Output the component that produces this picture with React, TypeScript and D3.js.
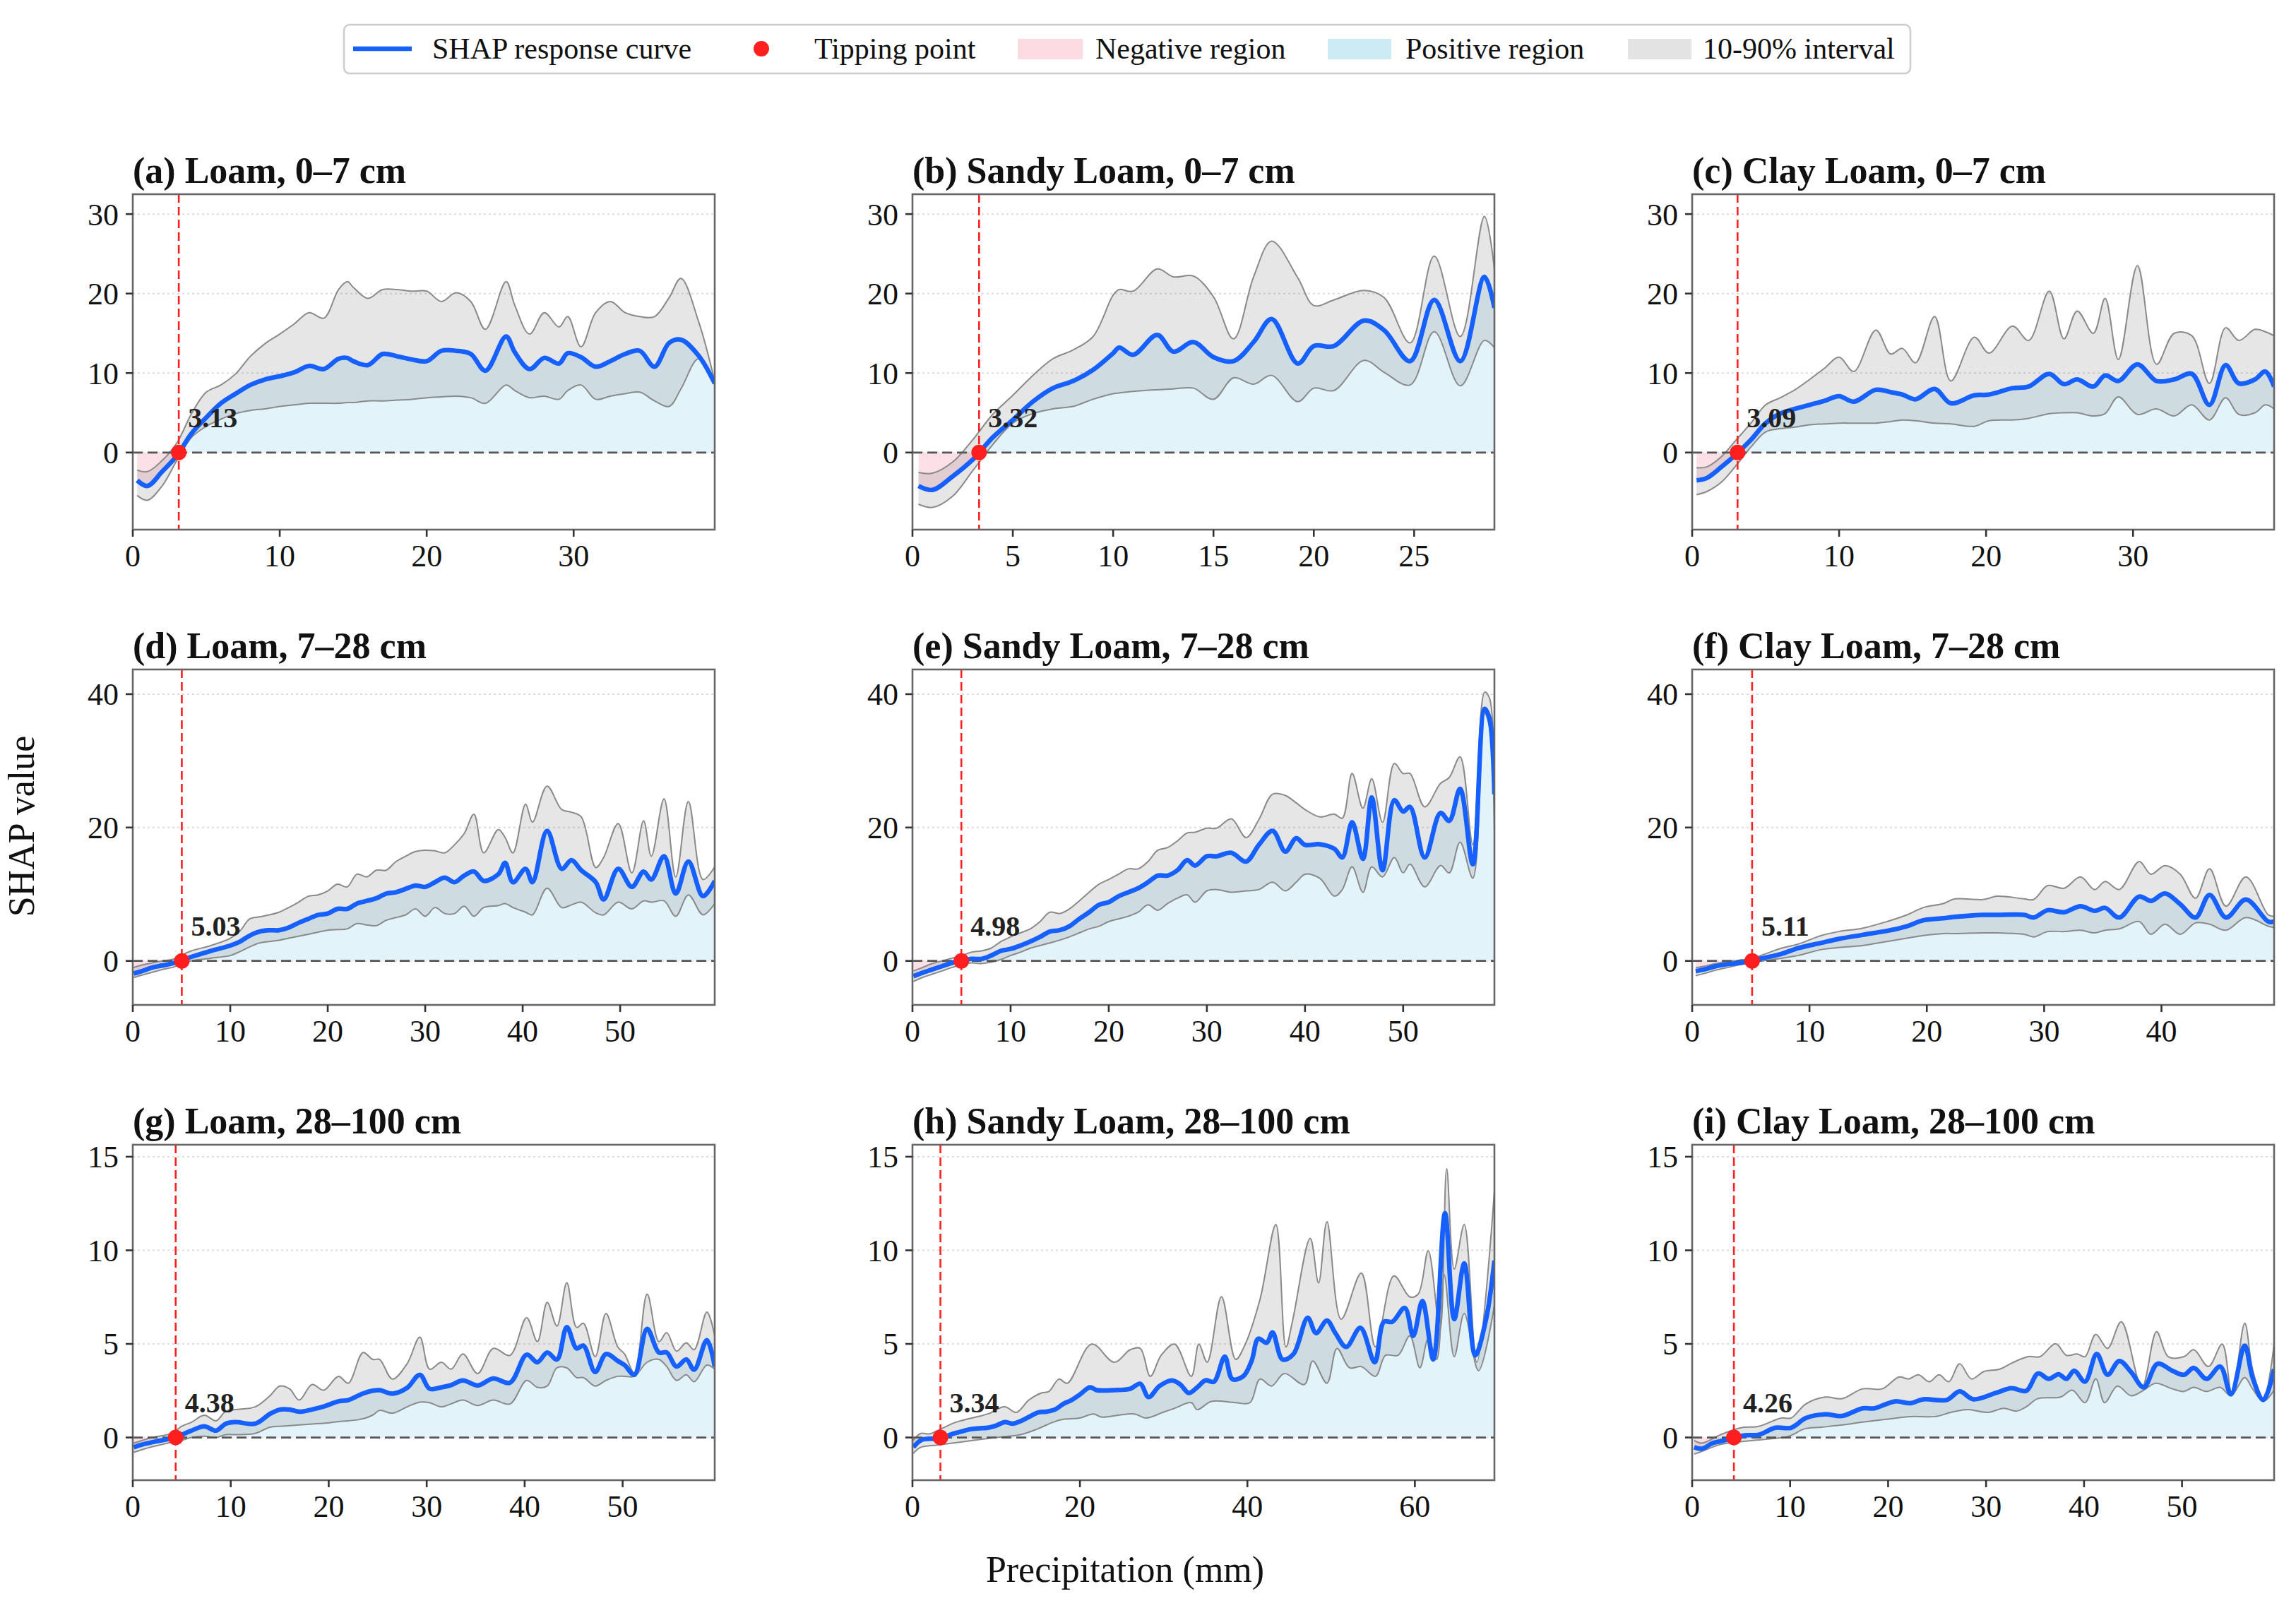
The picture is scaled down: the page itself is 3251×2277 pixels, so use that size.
import React from 'react';
import * as d3 from 'd3';

const W = 3251;
const H = 2277;
const PW = 824;
const PH = 475;
const colLeft = [188, 1292, 2396];
const rowTop = [275, 948, 1621];
const FONT = "'Liberation Serif', 'Times New Roman', serif";

const titles = [
  '(a) Loam, 0–7 cm', '(b) Sandy Loam, 0–7 cm', '(c) Clay Loam, 0–7 cm',
  '(d) Loam, 7–28 cm', '(e) Sandy Loam, 7–28 cm', '(f) Clay Loam, 7–28 cm',
  '(g) Loam, 28–100 cm', '(h) Sandy Loam, 28–100 cm', '(i) Clay Loam, 28–100 cm',
];
const tipping = [3.13, 3.32, 3.09, 5.03, 4.98, 5.11, 4.38, 3.34, 4.26];
const xMax = [39.6, 29.0, 39.6, 59.7, 59.3, 49.6, 59.4, 69.5, 59.4];
const xTicks = [
  [0, 10, 20, 30], [0, 5, 10, 15, 20, 25], [0, 10, 20, 30],
  [0, 10, 20, 30, 40, 50], [0, 10, 20, 30, 40, 50], [0, 10, 20, 30, 40],
  [0, 10, 20, 30, 40, 50], [0, 20, 40, 60], [0, 10, 20, 30, 40, 50],
];
const rowYDomain = [[-9.7, 32.5], [-6.6, 43.7], [-2.28, 15.64]];
const rowYTicks = [[0, 10, 20, 30], [0, 20, 40], [0, 5, 10, 15]];

// (a) Loam 0-7
const aX = [0.3, 1, 2, 3, 4, 5, 6, 7, 8, 9, 10, 11, 12, 13, 14, 14.6, 15, 16, 17, 18, 19, 20, 21, 22, 23, 24, 25.4, 26, 27, 28, 29, 29.6, 30.5, 31.5, 32.5, 33.5, 34.5, 35.5, 36.5, 37.3, 38.5, 39.6];
const aMid = [-3.5, -4.2, -2.4, -0.4, 2.4, 4.4, 6.2, 7.4, 8.5, 9.2, 9.6, 10.1, 10.9, 10.5, 11.8, 11.9, 11.5, 11.0, 12.4, 12.1, 11.7, 11.5, 12.8, 12.8, 12.4, 10.3, 14.6, 12.6, 10.5, 11.9, 11.2, 12.5, 12.0, 10.8, 11.5, 12.4, 12.8, 10.8, 13.8, 14.2, 12.2, 8.7];
const aLo = [-5.4, -6.0, -4.2, -1.0, 1.9, 3.3, 4.2, 4.9, 5.3, 5.5, 5.8, 6.0, 6.2, 6.2, 6.2, 6.3, 6.3, 6.5, 6.5, 6.6, 6.7, 6.9, 7.0, 7.1, 6.9, 6.2, 8.5, 7.8, 6.9, 7.1, 6.7, 7.8, 8.5, 6.7, 7.1, 7.4, 7.6, 6.5, 5.8, 8.0, 11.8, 8.5];
const aHi = [-2.2, -2.4, -1.0, 1.2, 4.9, 7.6, 8.5, 9.9, 12.1, 13.7, 14.9, 16.2, 17.6, 16.9, 20.5, 21.5, 20.8, 19.4, 20.5, 20.5, 20.3, 20.3, 19.0, 20.1, 19.0, 15.5, 21.5, 18.5, 14.9, 17.6, 15.8, 17.1, 13.3, 17.6, 19.0, 17.6, 17.1, 17.1, 19.5, 21.9, 16.5, 9.0];

// (b) Sandy Loam 0-7
const bX = [0.3, 1, 2, 3, 4, 5, 6, 7, 8, 9, 10, 10.3, 11, 12.2, 13, 14, 15, 16, 17, 17.9, 19.2, 20, 21, 22.5, 23.5, 24.8, 26, 27.3, 28.5, 29];
const bMid = [-4.2, -4.7, -3.0, -0.9, 1.9, 4.1, 6.4, 8.1, 9.0, 10.4, 12.5, 13.2, 12.3, 14.8, 12.7, 13.9, 12.0, 11.5, 13.9, 16.8, 11.2, 13.4, 13.4, 16.6, 15.4, 11.5, 19.2, 11.5, 22.1, 18.2];
const bHi = [-2.5, -2.6, -1.2, 1.6, 4.8, 7.2, 9.7, 11.8, 12.9, 14.6, 19.8, 20.5, 20.3, 23.1, 22.1, 22.2, 19.6, 14.3, 22.1, 26.6, 22.0, 18.5, 19.2, 20.4, 19.5, 13.8, 24.7, 14.6, 29.7, 23.1];
const bLo = [-6.5, -6.9, -5.5, -2.3, 1.0, 3.7, 4.9, 5.5, 5.8, 6.7, 7.4, 7.5, 7.7, 7.9, 8.0, 8.1, 6.7, 9.4, 8.6, 9.7, 6.4, 8.1, 7.8, 11.6, 10.1, 8.5, 15.2, 8.4, 14.1, 13.2];

// (c) Clay Loam 0-7
const cX = [0.3, 1, 2, 3, 4, 5, 6, 7, 8, 9, 10, 11, 12.5, 13.5, 14.3, 15.2, 16.5, 17.6, 19.2, 20.2, 21.8, 22.9, 24.3, 25.3, 26.2, 27.3, 28.1, 29.0, 30.3, 31.6, 32.8, 34, 35.2, 36.3, 37.2, 38.3, 39.0, 39.6];
const cMid = [-3.5, -3.2, -1.8, -0.2, 1.6, 3.7, 4.9, 5.5, 6.0, 6.5, 7.1, 6.4, 7.9, 7.6, 7.3, 6.7, 8.0, 6.2, 7.2, 7.3, 8.1, 8.3, 9.9, 8.6, 9.2, 8.3, 9.7, 9.0, 11.1, 9.0, 9.2, 9.9, 6.0, 11.0, 8.7, 9.2, 10.2, 8.3];
const cHi = [-1.9, -1.8, -0.5, 1.6, 3.7, 6.0, 6.9, 7.9, 9.2, 10.6, 12.0, 10.2, 15.4, 12.4, 13.1, 11.3, 17.1, 9.0, 14.5, 12.5, 15.9, 14.1, 20.3, 14.3, 17.8, 15.0, 19.4, 11.7, 23.5, 11.1, 15.0, 14.7, 8.7, 15.7, 14.1, 15.5, 15.2, 14.7];
const cLo = [-5.3, -4.9, -3.7, -1.6, 0.7, 2.6, 3.0, 3.2, 3.5, 3.6, 3.7, 3.7, 3.7, 3.9, 4.1, 4.0, 3.7, 3.6, 3.3, 4.0, 4.1, 4.3, 4.9, 5.0, 5.0, 4.6, 4.9, 7.0, 4.8, 5.5, 4.6, 6.0, 4.1, 6.9, 4.8, 5.0, 6.0, 5.5];

// (d) Loam 7-28
const dX = [0.1, 1, 2, 3, 4, 6, 8, 10, 11, 12, 13, 14, 15, 16, 17, 18, 19, 20, 21, 22, 23, 24, 25, 26, 27, 28, 29, 30, 31, 32, 33, 34, 35, 36, 37.5, 38.2, 39, 40.3, 41, 42.5, 44, 45, 46, 47.5, 48.3, 49.8, 51.2, 52.4, 53.2, 54.5, 55.7, 57, 58.5, 59.7];
const dMid = [-1.9, -1.5, -1.0, -0.7, -0.4, 0.6, 1.5, 2.3, 2.9, 3.8, 4.4, 4.6, 4.6, 5.0, 5.7, 6.3, 6.9, 7.1, 7.8, 7.8, 8.6, 9.0, 9.4, 10.1, 10.3, 10.8, 11.3, 11.1, 11.8, 12.5, 11.8, 12.8, 13.4, 12.0, 13.0, 14.7, 11.8, 13.8, 11.8, 19.5, 13.8, 15.1, 13.6, 11.8, 9.2, 13.8, 11.1, 13.4, 12.2, 15.7, 10.1, 14.9, 9.7, 12.0];
const dHi = [-1.0, -0.6, -0.3, 0, 0.2, 1.5, 2.3, 3.4, 4.5, 6.3, 6.6, 6.9, 7.3, 8.0, 8.8, 9.7, 9.9, 10.5, 11.5, 11.1, 13.0, 12.6, 13.6, 13.6, 14.9, 15.7, 16.4, 16.6, 16.5, 16.2, 17.4, 19.1, 22.0, 16.2, 19.7, 18.5, 16.2, 23.5, 20.8, 26.2, 22.7, 22.3, 21.6, 14.0, 15.5, 20.6, 13.2, 21.0, 15.7, 24.3, 12.6, 23.9, 12.2, 14.1];
const dLo = [-2.5, -2.1, -1.7, -1.3, -1.0, 0, 0.4, 0.8, 1.4, 2.1, 2.7, 2.9, 3.1, 3.4, 3.7, 4.0, 4.3, 4.6, 4.7, 4.8, 5.6, 5.4, 5.3, 6.1, 6.5, 6.9, 7.8, 6.7, 8.0, 7.1, 7.1, 8.2, 6.7, 8.0, 8.3, 8.6, 8.0, 7.3, 6.9, 10.9, 8.0, 8.4, 8.8, 7.2, 6.9, 8.8, 7.8, 9.0, 8.8, 9.0, 6.7, 9.9, 6.9, 8.6];

// (e) Sandy Loam 7-28
const eX = [0.1, 1, 2, 3, 4, 5, 6, 7, 8, 9, 10, 11, 12, 13, 14, 15, 16, 17, 18, 19, 20, 21, 22, 23, 24, 25, 26, 27, 28, 28.8, 30, 31, 32.5, 34, 35.3, 36.7, 38, 39.1, 40, 41.5, 43, 43.8, 44.8, 45.9, 46.8, 47.9, 49.1, 50, 50.7, 52.2, 53.8, 54.7, 55.8, 57.1, 58.3, 58.8, 59.3];
const eMid = [-2.3, -1.8, -1.3, -0.8, -0.3, 0, 0.3, 0.3, 0.8, 1.5, 1.8, 2.3, 2.9, 3.6, 4.4, 4.6, 5.2, 6.3, 7.3, 8.4, 8.8, 9.7, 10.3, 10.9, 11.8, 12.8, 12.8, 13.6, 15.1, 14.3, 15.7, 15.7, 16.2, 14.9, 17.4, 19.5, 16.4, 18.4, 17.4, 17.5, 16.8, 15.5, 20.8, 15.3, 24.5, 13.6, 24.1, 22.4, 23.1, 15.5, 22.2, 21.0, 25.8, 14.5, 37.8, 36.3, 25.0];
const eHi = [-1.5, -1.0, -0.4, 0, 0.4, 0.8, 1.3, 1.5, 1.9, 2.9, 3.6, 4.2, 4.8, 5.9, 7.3, 7.1, 7.8, 9.0, 10.3, 11.5, 12.2, 13.0, 13.8, 13.8, 14.9, 16.6, 17.0, 18.0, 19.2, 19.3, 19.9, 19.9, 21.3, 18.5, 21.2, 25.0, 24.8, 23.7, 22.7, 21.6, 22.0, 21.4, 28.1, 22.9, 27.3, 20.8, 29.6, 28.1, 28.1, 23.1, 26.6, 27.5, 30.6, 17.4, 40.3, 39.4, 25.8];
const eLo = [-3.1, -2.5, -2.0, -1.5, -1.0, -0.6, -0.3, -0.4, -0.2, 0.2, 0.8, 1.3, 1.9, 2.3, 2.7, 3.1, 3.6, 4.2, 4.8, 5.2, 5.9, 6.3, 6.7, 7.3, 8.4, 7.6, 8.6, 9.4, 9.9, 8.8, 10.5, 10.7, 10.3, 10.5, 10.7, 11.8, 10.5, 11.8, 13.0, 12.4, 9.7, 10.7, 14.1, 10.3, 14.1, 12.6, 15.5, 13.2, 14.5, 11.1, 14.3, 13.2, 17.8, 12.4, 37.1, 35.0, 19.9];

// (f) Clay Loam 7-28
const fX = [0.3, 1, 2, 3, 4, 5.2, 6, 7.6, 9, 11, 12.5, 14.5, 16.6, 18.3, 19.7, 21.4, 22.4, 24.8, 26, 28.3, 29.1, 30.3, 31.7, 33.1, 34.3, 35.2, 36.4, 38.1, 39.1, 40.3, 41.6, 42.9, 44.1, 45.5, 47.2, 49.1, 49.6];
const fMid = [-1.55, -1.3, -0.8, -0.5, -0.3, 0.05, 0.4, 1.05, 1.9, 2.7, 3.3, 3.9, 4.5, 5.2, 6.1, 6.4, 6.6, 6.9, 6.9, 6.9, 6.5, 7.6, 7.3, 8.2, 7.5, 7.95, 6.5, 9.65, 9.0, 10.1, 8.5, 6.5, 9.9, 6.5, 9.2, 5.9, 5.9];
const fHi = [-1.0, -0.8, -0.4, -0.1, 0.1, 0.4, 0.9, 1.9, 2.5, 3.8, 4.4, 4.9, 5.9, 6.9, 8.0, 8.6, 9.3, 9.2, 9.7, 9.3, 9.2, 11.3, 10.9, 12.6, 10.7, 11.9, 10.7, 14.9, 13.0, 14.3, 13.0, 9.4, 13.8, 8.2, 12.6, 6.9, 6.7];
const fLo = [-2.2, -1.9, -1.4, -1.0, -0.6, -0.2, 0, 0.4, 0.8, 1.7, 2.0, 2.3, 2.9, 3.4, 3.8, 4.1, 4.1, 4.2, 4.2, 4.0, 3.6, 4.4, 4.4, 4.6, 4.2, 4.6, 4.8, 5.9, 4.0, 5.5, 4.0, 5.7, 5.5, 4.6, 6.5, 5.2, 5.0];

// (g) Loam 28-100
const gX = [0.1, 1, 2, 3, 4, 5, 6, 7.3, 8.5, 9.5, 10.5, 12.5, 14, 15, 16, 17, 18.3, 19.5, 21, 22, 23.5, 24.5, 25.2, 26.5, 28, 29.3, 30.3, 31.5, 32.5, 33.7, 35.2, 36.8, 38.5, 40.2, 41.3, 42.3, 43.3, 44.3, 45.3, 46, 47.2, 48.3, 49.5, 50.2, 51.2, 52.5, 53.7, 54.5, 55.5, 56.5, 57.3, 58.6, 59.4];
const gMid = [-0.52, -0.37, -0.25, -0.15, -0.03, 0.15, 0.37, 0.6, 0.37, 0.74, 0.82, 0.74, 1.26, 1.49, 1.49, 1.38, 1.5, 1.66, 1.93, 2.0, 2.35, 2.5, 2.53, 2.34, 2.65, 3.35, 2.6, 2.68, 2.8, 3.05, 2.78, 3.15, 2.93, 4.42, 4.02, 4.54, 4.17, 5.9, 4.76, 4.91, 3.5, 4.46, 4.09, 3.87, 3.35, 5.8, 4.54, 4.54, 3.79, 4.17, 3.62, 5.2, 3.79];
const gHi = [-0.3, -0.15, 0, 0.1, 0.22, 0.6, 0.82, 1.19, 0.89, 1.41, 1.49, 1.64, 2.23, 2.75, 2.6, 2.0, 2.83, 2.53, 3.27, 2.9, 4.54, 4.17, 4.17, 3.12, 3.94, 5.36, 3.65, 4.02, 3.65, 4.46, 3.42, 4.76, 4.39, 6.4, 5.12, 7.22, 5.95, 8.26, 5.88, 6.1, 4.32, 6.62, 4.84, 4.46, 3.45, 7.66, 5.12, 5.6, 4.61, 5.06, 4.69, 6.7, 5.43];
const gLo = [-0.79, -0.64, -0.49, -0.37, -0.25, -0.15, 0, 0.07, 0, 0.15, 0.15, 0.22, 0.55, 0.6, 0.63, 0.67, 0.72, 0.76, 0.85, 0.89, 1.0, 1.2, 1.45, 1.3, 1.64, 1.89, 1.86, 1.64, 1.8, 2.0, 1.71, 2.0, 1.79, 3.05, 2.68, 2.75, 3.72, 3.72, 3.2, 3.2, 2.75, 3.05, 3.27, 3.27, 3.27, 4.02, 4.17, 3.79, 3.05, 3.35, 2.98, 3.87, 3.65];

// (h) Sandy Loam 28-100, series read at their own x positions
const hMid = [[0.1, -0.52], [1, -0.15], [2, -0.07], [3, -0.07], [4, 0.07], [5, 0.22], [6, 0.34], [7, 0.45], [8, 0.49], [9, 0.52], [10, 0.64], [11, 0.82], [12, 0.74], [13, 0.89], [14, 1.12], [15, 1.34], [16, 1.38], [17, 1.49], [18, 1.79], [19, 2.0], [20, 2.3], [21.2, 2.68], [22, 2.53], [24, 2.53], [26, 2.6], [27.2, 2.87], [28.2, 2.16], [29.5, 2.75], [31, 3.05], [32, 2.83], [33, 2.38], [34, 2.68], [35, 3.05], [36, 2.98], [37.3, 4.32], [38.2, 3.12], [39.5, 3.27], [40.5, 4.09], [41.3, 5.28], [42.3, 5.06], [43, 5.61], [44.2, 4.17], [45.5, 4.46], [47.2, 6.4], [48.2, 5.58], [49.5, 6.25], [50.5, 5.58], [51.8, 4.84], [53.5, 5.86], [55.2, 4.02], [56.3, 6.18], [57.3, 6.18], [58.8, 6.92], [59.8, 5.43], [60.9, 7.29], [62.2, 4.17], [63.6, 11.98], [64.7, 6.32], [65.9, 9.3], [67.2, 4.39], [68.5, 6.32], [69.5, 9.45]];
const hHi = [[0.1, -0.15], [1, 0.22], [2, 0.19], [3, 0.37], [5.2, 0.82], [9, 1.26], [11, 1.64], [12.4, 1.34], [13.9, 2.0], [15.4, 2.38], [16.3, 2.46], [17.5, 3.12], [18.5, 2.9], [21.4, 4.99], [24.1, 4.02], [26, 4.69], [27.2, 4.76], [28.4, 3.27], [29.7, 4.39], [31.3, 4.99], [33.3, 3.27], [34.2, 4.99], [35.2, 4.02], [36.9, 7.52], [38.6, 4.17], [39.6, 4.84], [41.5, 7.37], [43.4, 11.38], [44.6, 4.84], [45.4, 6.25], [47.5, 10.64], [48.5, 8.26], [49.5, 11.53], [51.2, 6.32], [53.6, 8.78], [55.3, 4.84], [57.5, 8.63], [59.4, 7.51], [60.4, 7.66], [61.6, 9.97], [63.0, 5.73], [63.8, 14.36], [64.7, 9.0], [65.9, 11.38], [67.4, 4.02], [69.5, 13.17]];
const hLo = [[0.1, -0.85], [1, -0.52], [3, -0.4], [6.1, -0.22], [10, 0], [12.9, 0.15], [14.9, 0.45], [16.8, 0.82], [18, 0.97], [20, 1.04], [21.6, 1.26], [22.6, 1.09], [24.6, 1.19], [26.5, 1.26], [27.9, 1.04], [29.9, 1.34], [31.3, 1.56], [33.3, 1.86], [34, 1.49], [35.7, 1.93], [38.6, 1.86], [40.3, 1.86], [41.5, 3.12], [42.9, 2.75], [44.4, 3.42], [46.8, 2.83], [47.8, 4.09], [49.5, 2.9], [50.7, 4.76], [52.2, 3.72], [53.6, 3.79], [55.3, 3.27], [56.5, 4.39], [58, 4.39], [59.4, 5.43], [60.6, 3.72], [61.6, 5.28], [62.6, 4.17], [63.5, 8.7], [64.7, 4.32], [65.9, 6.62], [67.6, 3.57], [69.5, 7.07]];

// (i) Clay Loam 28-100
const iMid = [[0.2, -0.52], [1, -0.6], [2.1, -0.3], [3.3, -0.15], [4.26, 0], [5.4, 0.12], [6.8, 0.15], [8.5, 0.52], [10.1, 0.52], [11.6, 1.04], [13.6, 1.24], [15.3, 1.15], [17.4, 1.56], [18.6, 1.56], [20.7, 1.93], [22.3, 1.83], [23.6, 2.04], [26, 2.01], [27.3, 2.46], [28.7, 2.04], [31, 2.38], [32.6, 2.63], [34.1, 2.49], [35.3, 3.42], [36.4, 3.13], [37.4, 3.38], [38.2, 3.13], [39, 3.57], [40.1, 2.98], [41.3, 4.46], [42.4, 3.35], [43.6, 4.09], [44.8, 3.5], [46.1, 2.68], [47.5, 3.94], [49, 3.57], [50.2, 3.35], [51.2, 3.72], [52.5, 3.13], [53.9, 3.79], [55, 2.31], [56.4, 4.91], [57.2, 3.2], [58.3, 2.01], [59.4, 3.65]];
const iHi = [[0.2, -0.15], [1, -0.3], [2.9, 0.15], [5, 0.52], [6.8, 0.6], [9.1, 1.04], [10.1, 1.04], [11.6, 1.79], [13.6, 2.16], [15.3, 2.08], [17.4, 2.6], [19.4, 2.6], [21.1, 3.23], [22.1, 3.13], [23.1, 3.35], [24.2, 2.98], [25.2, 3.35], [26.2, 2.98], [27.3, 3.94], [28.5, 3.13], [29.8, 3.53], [31.4, 3.65], [32.6, 3.97], [34.3, 4.32], [35.5, 4.32], [37.1, 5.01], [38.2, 4.39], [39.3, 4.46], [40.1, 4.32], [41.2, 5.51], [42.4, 4.76], [43.8, 6.18], [45.9, 2.68], [47.4, 5.65], [48.6, 4.32], [50.2, 4.32], [51.2, 4.69], [52.7, 3.79], [54.1, 4.99], [55.1, 2.31], [56.4, 6.1], [57.2, 3.65], [58.3, 2.01], [59.4, 4.99]];
const iLo = [[0.2, -0.89], [1, -0.74], [2.9, -0.37], [5, -0.22], [7.4, -0.1], [9.9, 0.07], [11.4, 0.45], [13.2, 0.55], [15.3, 0.67], [17.4, 0.82], [19.8, 0.97], [22.3, 1.12], [24.8, 1.12], [26.4, 1.34], [28.1, 1.49], [30.2, 1.34], [31.8, 1.56], [33.1, 1.41], [34.1, 1.64], [35.3, 2.08], [37.6, 2.16], [38.8, 2.53], [40.1, 1.86], [41.2, 3.13], [42.1, 1.86], [43.4, 2.75], [44.8, 2.23], [46.1, 2.53], [47.3, 2.9], [49, 2.6], [50.2, 2.46], [51.2, 2.68], [52.5, 2.46], [53.9, 2.68], [55, 2.23], [56.4, 3.2], [57.2, 2.6], [58.3, 1.93], [59.4, 2.53]];

const zip = (xs: number[], ys: number[]) => xs.map((x, i) => [x, ys[i]]);

const series = [
  { mid: zip(aX, aMid), lo: zip(aX, aLo), hi: zip(aX, aHi) },
  { mid: zip(bX, bMid), lo: zip(bX, bLo), hi: zip(bX, bHi) },
  { mid: zip(cX, cMid), lo: zip(cX, cLo), hi: zip(cX, cHi) },
  { mid: zip(dX, dMid), lo: zip(dX, dLo), hi: zip(dX, dHi) },
  { mid: zip(eX, eMid), lo: zip(eX, eLo), hi: zip(eX, eHi) },
  { mid: zip(fX, fMid), lo: zip(fX, fLo), hi: zip(fX, fHi) },
  { mid: zip(gX, gMid), lo: zip(gX, gLo), hi: zip(gX, gHi) },
  { mid: hMid, lo: hLo, hi: hHi },
  { mid: iMid, lo: iLo, hi: iHi },
];

const BLUE = '#1560ff';
const RED = '#ff1f1f';
const POS = '#e2f3fa';
const NEG = '#fbe1e7';

function Panel({ idx }: { idx: number }) {
  const row = Math.floor(idx / 3);
  const col = idx % 3;
  const left = colLeft[col];
  const top = rowTop[row];
  const s = series[idx];
  const x = d3.scaleLinear().domain([0, xMax[idx]]).range([0, PW]);
  const y = d3.scaleLinear().domain(rowYDomain[row]).range([PH, 0]);
  const curve = d3.curveCatmullRom.alpha(0.5);
  const line = d3.line<number[]>().x((d) => x(d[0])).y((d) => y(d[1])).curve(curve);
  const area = d3.area<number[]>().x((d) => x(d[0])).y0(y(0)).y1((d) => y(d[1])).curve(curve);
  const band = line(s.hi) + (line([...s.lo].reverse()) || '').replace(/^M/, 'L') + 'Z';
  const y0 = y(0);
  const tx = x(tipping[idx]);
  const id = `p${idx}`;
  return (
    <g transform={`translate(${left},${top})`}>
      <defs>
        <clipPath id={`clip-${id}`}><rect x={0} y={0} width={PW} height={PH} /></clipPath>
        <clipPath id={`pos-${id}`}><rect x={0} y={0} width={PW} height={y0} /></clipPath>
        <clipPath id={`neg-${id}`}><rect x={0} y={y0} width={PW} height={PH - y0} /></clipPath>
      </defs>
      <text x={0} y={-16} fontFamily={FONT} fontWeight="bold" fontSize={52} fill="#111">{titles[idx]}</text>
      {rowYTicks[row].map((t) => (
        <line key={`g${t}`} x1={0} x2={PW} y1={y(t)} y2={y(t)} stroke="#dcdcdc" strokeWidth={2} strokeDasharray="3,4" />
      ))}
      <g clipPath={`url(#clip-${id})`}>
        <path d={area(s.mid) || ''} fill={POS} clipPath={`url(#pos-${id})`} />
        <path d={area(s.mid) || ''} fill={NEG} clipPath={`url(#neg-${id})`} />
        <path d={band} fill="#808080" fillOpacity={0.2} />
        <path d={line(s.hi) || ''} fill="none" stroke="#8a8a8a" strokeWidth={2} />
        <path d={line(s.lo) || ''} fill="none" stroke="#8a8a8a" strokeWidth={2} />
        <line x1={0} x2={PW} y1={y0} y2={y0} stroke="#555" strokeWidth={2.8} strokeDasharray="14,7" />
        <path d={line(s.mid) || ''} fill="none" stroke={BLUE} strokeWidth={6.5} strokeLinejoin="round" />
        <line x1={tx} x2={tx} y1={0} y2={PH} stroke={RED} strokeWidth={2.6} strokeDasharray="12,6" />
      </g>
      <circle cx={tx} cy={y0} r={11} fill={RED} />
      <text x={tx + 13} y={y0 - 36} fontFamily={FONT} fontWeight="bold" fontSize={40} fill="#222">
        {tipping[idx].toFixed(2)}
      </text>
      <rect x={0} y={0} width={PW} height={PH} fill="none" stroke="#666" strokeWidth={2.6} />
      {rowYTicks[row].map((t) => (
        <g key={`y${t}`}>
          <line x1={-10} x2={0} y1={y(t)} y2={y(t)} stroke="#333" strokeWidth={2.6} />
          <text x={-20} y={y(t)} dy="0.35em" textAnchor="end" fontFamily={FONT} fontSize={44} fill="#111">{t}</text>
        </g>
      ))}
      {xTicks[idx].map((t) => (
        <g key={`x${t}`}>
          <line x1={x(t)} x2={x(t)} y1={PH} y2={PH + 10} stroke="#333" strokeWidth={2.6} />
          <text x={x(t)} y={PH + 52} textAnchor="middle" fontFamily={FONT} fontSize={44} fill="#111">{t}</text>
        </g>
      ))}
    </g>
  );
}

function Legend() {
  const ty = 83;
  return (
    <g>
      <rect x={487} y={35} width={2218} height={69} rx={8} fill="#fff" stroke="#cccccc" strokeWidth={2.5} />
      <line x1={500} x2={583} y1={69} y2={69} stroke={BLUE} strokeWidth={6.5} />
      <text x={612} y={ty} fontFamily={FONT} fontSize={42} fill="#111">SHAP response curve</text>
      <circle cx={1078} cy={69} r={11} fill={RED} />
      <text x={1153} y={ty} fontFamily={FONT} fontSize={42} fill="#111">Tipping point</text>
      <rect x={1441} y={55} width={92} height={29} fill="#fcdbe2" />
      <text x={1551} y={ty} fontFamily={FONT} fontSize={42} fill="#111">Negative region</text>
      <rect x={1880} y={55} width={90} height={29} fill="#cdebf5" />
      <text x={1990} y={ty} fontFamily={FONT} fontSize={42} fill="#111">Positive region</text>
      <rect x={2305} y={55} width={90} height={29} fill="#e3e3e3" />
      <text x={2411} y={ty} fontFamily={FONT} fontSize={42} fill="#111">10-90% interval</text>
    </g>
  );
}

export default function App() {
  return (
    <svg
      width={W}
      height={H}
      viewBox={`0 0 ${W} ${H}`}
      style={{ position: 'absolute', left: 0, top: 0, display: 'block', background: '#fff' }}
    >
      <rect x={0} y={0} width={W} height={H} fill="#fff" />
      <Legend />
      {titles.map((_, i) => (
        <Panel key={i} idx={i} />
      ))}
      <text
        transform={`translate(48,1170) rotate(-90)`}
        textAnchor="middle"
        fontFamily={FONT}
        fontSize={52}
        fill="#111"
      >
        SHAP value
      </text>
      <text x={1593} y={2240} textAnchor="middle" fontFamily={FONT} fontSize={52} fill="#111">
        Precipitation (mm)
      </text>
    </svg>
  );
}
